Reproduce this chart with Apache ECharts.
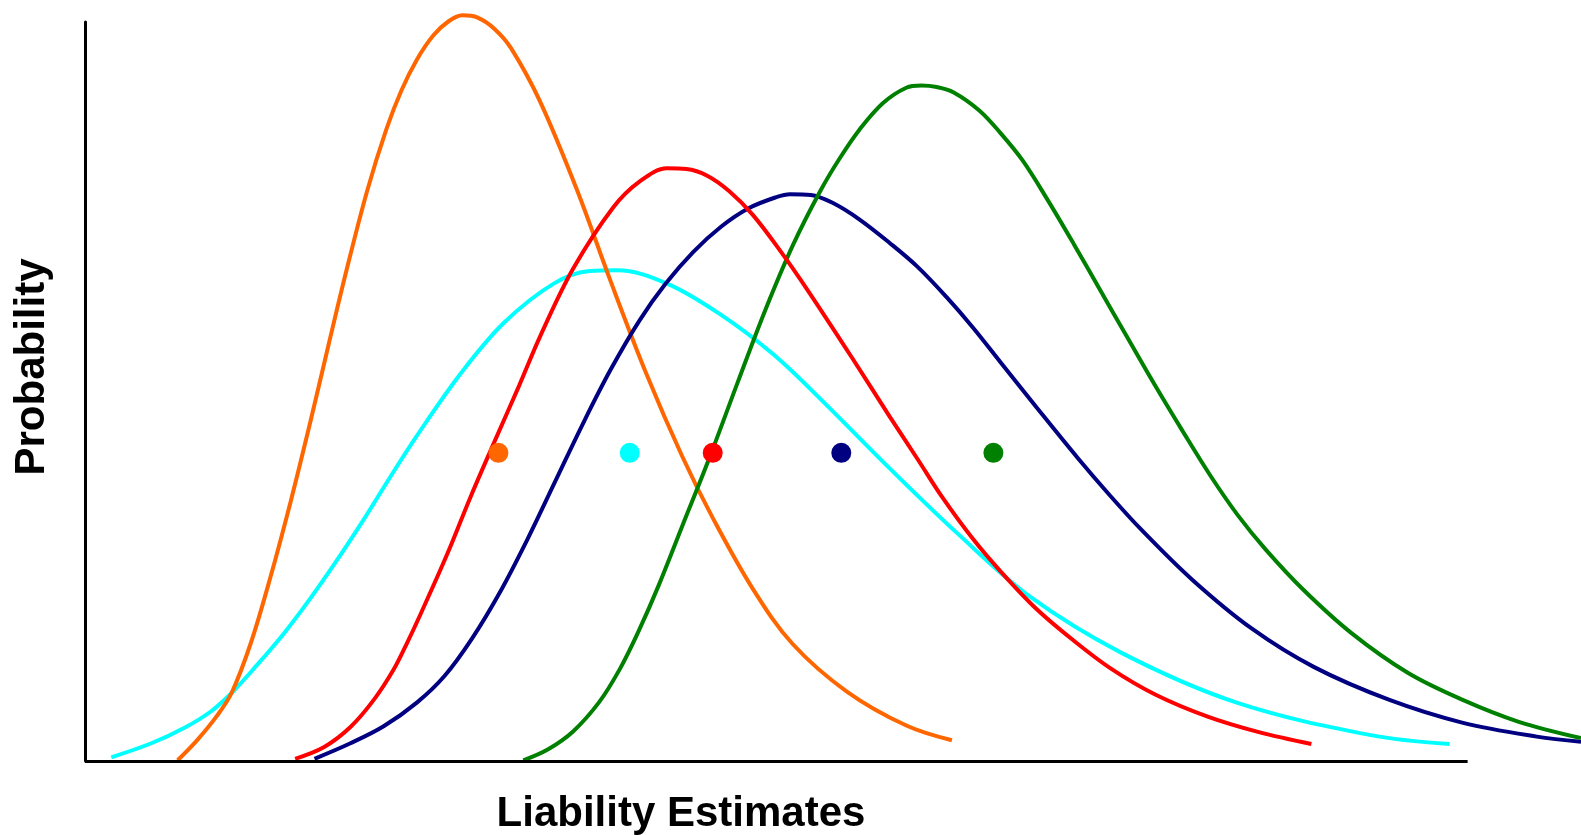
<!DOCTYPE html>
<html>
<head>
<meta charset="utf-8">
<script src="https://cdn.jsdelivr.net/npm/echarts/dist/echarts.min.js"></script>
<style>
html,body{margin:0;padding:0;background:#fff;}
#chart{width:1581px;height:835px;}
</style>
</head>
<body>
<div id="chart"></div>
<script>
// Values: x = liability estimate (0-100 along the drawn axis), y = probability (0-100 of the axis height)
const orangeX = [6.7,8.1,9.5,10.6,12.0,13.4,14.9,16.3,17.6,18.9,20.4,21.8,22.9,24.0,25.2,26.3,27.3,28.4,29.6,30.8,32.9,35.6,38.0,40.6,43.2,45.4,48.3,51.2,55.1,59.4,62.7];
const orangeY = [0.1,2.8,6.0,9.2,16.0,24.8,35.3,45.9,56.2,66.3,77.1,85.5,90.8,94.9,98.2,100.1,100.9,100.6,99.1,96.5,89.3,77.2,65.0,52.4,41.2,32.9,23.3,15.8,9.4,4.8,2.8];

const cyanX = [1.9,4.8,7.2,9.1,10.6,12.4,14.4,16.3,18.2,20.2,22.1,24.0,27.2,30.3,33.9,36.5,38.5,42.1,45.9,49.8,53.4,58.2,63.1,68.3,75.0,83.3,93.0,98.7];
const cyanY = [0.5,2.4,4.5,6.7,9.2,12.9,17.3,22.0,27.1,32.8,38.5,44.0,52.5,59.3,64.6,66.3,66.4,64.6,60.5,55.0,48.6,39.6,30.8,22.3,14.6,7.9,3.5,2.3];

const redX = [15.2,17.3,19.2,20.9,22.3,23.3,24.3,26.2,27.9,29.8,31.4,33.0,35.3,38.2,40.1,42.1,43.5,45.0,46.6,48.3,50.3,52.2,55.5,58.2,60.2,62.0,64.2,66.2,68.8,71.5,74.2,77.4,81.2,84.9,88.7];
const redY = [0.3,1.9,4.6,8.3,12.3,16.0,20.0,28.0,35.8,44.0,50.8,57.8,66.6,74.9,78.4,80.2,80.1,79.2,77.1,73.9,69.0,63.9,54.5,46.6,40.9,35.7,30.1,25.7,20.6,16.3,12.5,9.0,6.0,3.9,2.3];

const navyX = [16.6,19.2,21.6,24.0,26.0,28.0,30.0,32.0,34.0,36.0,38.0,40.1,42.0,44.0,46.0,48.0,50.0,51.0,52.5,54.1,56.0,58.2,60.2,62.3,64.2,66.2,68.8,71.8,74.1,76.4,80.1,84.4,88.9,94.3,99.6,105.0,108.2];
const navyY = [0.3,2.4,4.7,7.9,11.5,16.6,22.8,30.0,37.8,45.6,52.9,59.6,64.6,68.9,72.3,74.8,76.3,76.7,76.6,75.5,73.3,70.1,66.9,62.8,58.7,54.0,47.9,41.0,36.0,31.3,24.5,17.9,12.7,8.3,5.2,3.3,2.6];

const greenX = [31.7,33.5,35.3,37.2,38.7,40.0,41.5,43.2,45.2,47.2,49.2,51.2,53.2,54.6,56.0,57.7,59.4,60.5,61.6,62.8,64.7,66.2,67.8,69.6,71.5,73.4,75.3,77.4,79.4,81.4,83.4,85.4,88.1,91.6,95.7,99.6,103.7,108.2];
const greenY = [0.1,1.6,4.0,8.0,12.5,17.4,23.8,31.8,41.2,51.2,61.0,69.8,77.2,81.6,85.4,89.0,91.1,91.4,91.2,90.5,88.0,85.0,81.3,76.0,70.0,63.8,57.6,50.8,44.6,38.6,33.2,28.6,23.2,17.3,11.9,8.3,5.3,3.1];

// Marker dots (one per distribution)
const dotNames = ['orange','cyan','red','navy','green'];
const dotX = [29.9,39.4,45.4,54.7,65.7];
const dotY = [41.7,41.7,41.7,41.7,41.7];

// Axis extent actually drawn as a line (the curves run past it)
const axisEnd = 100;
const viewMax = 108.2;

const colors = {orange:'#FF6600', cyan:'#00FFFF', red:'#FF0000', navy:'#000080', green:'#008000'};
const xTitle = 'Liability Estimates';
const yTitle = 'Probability';

function pairs(xs, ys){ return xs.map((x,i)=>[x, ys[i]]); }

const curves = [
  {name:'cyan', x:cyanX, y:cyanY},
  {name:'orange', x:orangeX, y:orangeY},
  {name:'navy', x:navyX, y:navyY},
  {name:'green', x:greenX, y:greenY},
  {name:'red', x:redX, y:redY}
];

const chart = echarts.init(document.getElementById('chart'), null, {renderer:'canvas'});
const series = curves.map(c => ({
  name: c.name,
  type: 'line',
  data: pairs(c.x, c.y),
  smooth: 0.35,
  showSymbol: false,
  clip: false,
  lineStyle: {color: colors[c.name], width: 4},
  itemStyle: {color: colors[c.name]},
  z: 2
}));
series.push({
  type: 'scatter',
  data: dotNames.map((n,i)=>({value:[dotX[i], dotY[i]], itemStyle:{color: colors[n], opacity: 1}})),
  symbolSize: 20,
  itemStyle: {opacity: 1},
  z: 5,
  markLine: {
    silent: true,
    symbol: ['none','none'],
    label: {show: false},
    lineStyle: {color: '#000', width: 3, type: 'solid'},
    data: [[{coord:[0,0]},{coord:[axisEnd,0]}]]
  }
});

chart.setOption({
  animation: false,
  backgroundColor: '#ffffff',
  grid: {left: 85, top: 22, right: 0, bottom: 74, containLabel: false},
  xAxis: {
    type: 'value', min: 0, max: viewMax,
    axisLine: {show: false},
    axisTick: {show: false}, axisLabel: {show: false}, splitLine: {show: false}
  },
  yAxis: {
    type: 'value', min: 0, max: 100,
    axisLine: {show: true, onZero: false, lineStyle: {color: '#000', width: 3}},
    axisTick: {show: false}, axisLabel: {show: false}, splitLine: {show: false}
  },
  graphic: [
    {type:'text', x: 681, y: 814, style:{text: xTitle, font: 'bold 42px "Liberation Sans", Arial, sans-serif', fill:'#000', textAlign:'center', textVerticalAlign:'middle'}},
    {type:'text', x: 32, y: 367, rotation: Math.PI/2, style:{text: yTitle, font: 'bold 42px "Liberation Sans", Arial, sans-serif', fill:'#000', textAlign:'center', textVerticalAlign:'middle'}}
  ],
  series: series
});
</script>
</body>
</html>
